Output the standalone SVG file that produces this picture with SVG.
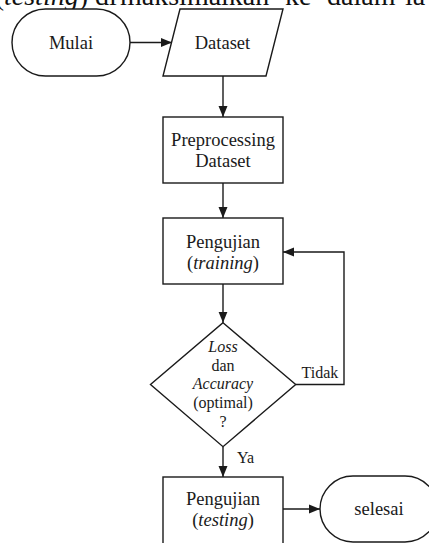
<svg xmlns="http://www.w3.org/2000/svg" width="429" height="543" viewBox="0 0 429 543">
<defs>
<style>
.n{fill:#fff;stroke:#1a1a1a;stroke-width:1.4}
.c{fill:none;stroke:#1a1a1a;stroke-width:1.4}
.t{font-family:"Liberation Serif","Times New Roman",serif;font-size:18.5px;fill:#1a1a1a;text-anchor:middle}
.s{font-family:"Liberation Serif","Times New Roman",serif;font-size:16px;fill:#1a1a1a;text-anchor:middle}
.i{font-style:italic}
.top{font-family:"Liberation Serif","Times New Roman",serif;font-size:28px;fill:#111}
</style>
<marker id="ah" markerUnits="userSpaceOnUse" markerWidth="12" markerHeight="12" viewBox="0 0 12 12" refX="11" refY="6" orient="auto">
<path d="M0,1.5 L11,6 L0,10.5 Z" fill="#1a1a1a"/>
</marker>
</defs>
<rect width="429" height="543" fill="#fff"/>
<text class="top" y="5"><tspan x="88" text-anchor="end">(<tspan font-style="italic">testing</tspan>)</tspan><tspan x="95">di</tspan><tspan x="120">maksimalkan</tspan><tspan x="285">ke</tspan><tspan x="327">dalam</tspan><tspan x="405">la</tspan></text>
<g id="connectors">
<line class="c" x1="130" y1="42.5" x2="172" y2="42.5" marker-end="url(#ah)"/>
<line class="c" x1="223" y1="76" x2="223" y2="117" marker-end="url(#ah)"/>
<line class="c" x1="223" y1="183" x2="223" y2="218" marker-end="url(#ah)"/>
<line class="c" x1="223" y1="284" x2="223" y2="322.7" marker-end="url(#ah)"/>
<polyline class="c" points="295.7,384.5 344,384.5 344,252 283,252" marker-end="url(#ah)"/>
<line class="c" x1="223" y1="446.7" x2="223" y2="477" marker-end="url(#ah)"/>
<line class="c" x1="283" y1="509" x2="320" y2="509" marker-end="url(#ah)"/>
<text class="s" x="320" y="378.3">Tidak</text>
<text class="s" x="245.5" y="463.3">Ya</text>
</g>
<g id="mulai">
<rect class="n" x="12" y="9" width="118" height="67" rx="33.5"/>
<text class="t" x="71" y="49">Mulai</text>
</g>
<g id="dataset">
<polygon class="n" points="180,9 283,9 266,76 163,76"/>
<text class="t" x="222.5" y="49">Dataset</text>
</g>
<g id="preprocessing">
<rect class="n" x="163" y="117" width="120" height="66"/>
<text class="t" x="223" y="146">Preprocessing</text>
<text class="t" x="223" y="167">Dataset</text>
</g>
<g id="training">
<rect class="n" x="163" y="218" width="120" height="66"/>
<text class="t" x="223" y="247.5">Pengujian</text>
<text class="t" x="223" y="268.5">(<tspan class="i">training</tspan>)</text>
</g>
<g id="decision">
<polygon class="n" points="223,322.7 295.7,384.5 223,446.7 150.5,384.5"/>
<text class="s i" x="223" y="351.7">Loss</text>
<text class="s" x="223" y="370.5">dan</text>
<text class="s i" x="223" y="389.3">Accuracy</text>
<text class="s" x="223" y="408">(optimal)</text>
<text class="s" x="223" y="426.7">?</text>
</g>
<g id="testing">
<rect class="n" x="163" y="477" width="120" height="68"/>
<text class="t" x="223" y="505">Pengujian</text>
<text class="t" x="223" y="526">(<tspan class="i">testing</tspan>)</text>
</g>
<g id="selesai">
<rect class="n" x="320" y="476" width="118" height="66" rx="33"/>
<text class="t" x="379" y="515">selesai</text>
</g>
</svg>
